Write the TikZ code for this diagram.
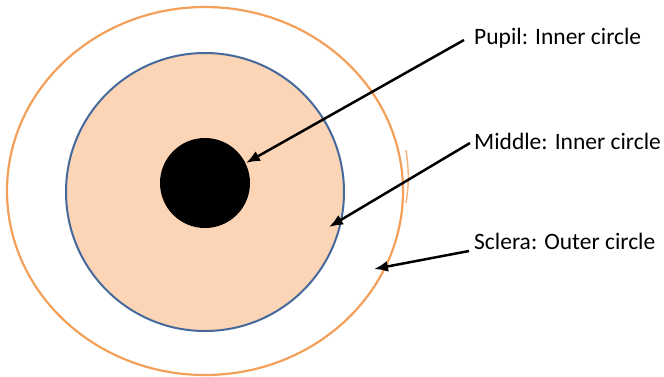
\documentclass[tikz,border=0pt]{standalone}
\usepackage{fontspec}
\setmainfont{Carlito}
\usetikzlibrary{arrows.meta}
\definecolor{scleraorange}{RGB}{243,160,90}
\definecolor{irisfill}{RGB}{251,213,181}
\definecolor{irisedge}{RGB}{70,105,155}

\begin{document}
\begin{tikzpicture}[x=1pt,y=1pt,>=Latex,
    lbl/.style={anchor=west,inner sep=2pt,font=\fontsize{23.5}{27}\selectfont},
    pointer/.style={->,line width=2.5pt,-{Latex[length=14pt,width=11pt]}}]
  \useasboundingbox (0,0) rectangle (664,-376);

  % eye
  \draw[scleraorange,line width=2.2pt] (205,-191) ellipse[x radius=198,y radius=184];
  \draw[scleraorange!80,line width=1.4pt] (406,-150) .. controls (409,-170) and (409,-185) .. (406,-203);
  \draw[irisedge,fill=irisfill,line width=2pt] (205,-192) circle[radius=139];
  \fill[black] (205,-183) circle[radius=45];

  % arrow tips
  \coordinate (pupiltip)  at (246,-163);
  \coordinate (middletip) at (329,-227);
  \coordinate (scleratip) at (374,-269);

  % labels
  \node[lbl] (pupil)  at (472,-38)  {Pupil: Inner circle};
  \node[lbl] (middle) at (472,-141) {Middle: Inner circle};
  \node[lbl] (sclera) at (472,-241) {Sclera: Outer circle};

  \draw[pointer] ([xshift=-8pt,yshift=-2pt]pupil.west) -- (pupiltip);
  \draw[pointer] ([xshift=-2pt,yshift=-2pt]middle.west) -- (middletip);
  \draw[pointer] ([xshift=-3pt,yshift=-10pt]sclera.west) -- (scleratip);
\end{tikzpicture}
\end{document}
